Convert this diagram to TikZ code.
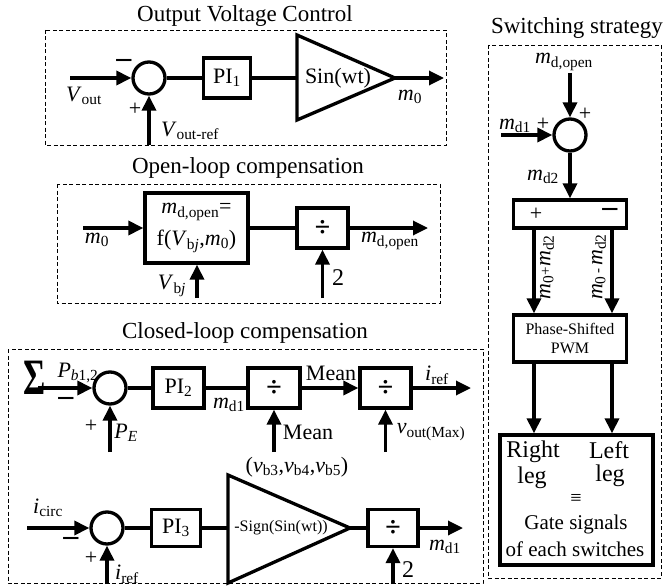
\documentclass[tikz,border=0pt]{standalone}
\usepackage{fontspec}
\setmainfont{Liberation Serif}
\usetikzlibrary{arrows.meta}
\newcommand{\vv}[2]{\textit{#1}\textsubscript{#2}}
\newcommand{\bminus}{{\fontsize{30}{30}\selectfont\textbf{–}}}
\newcommand{\bdiv}{{\fontsize{28}{28}\selectfont\textbf{÷}}}
\begin{document}
\begin{tikzpicture}[x=1pt,y=-1pt,font=\fontsize{22}{24}\selectfont,
 ln/.style={line width=3.3pt},
 arr/.style={line width=3.3pt,-{Triangle[length=15pt,width=14pt]}},
 blk/.style={draw,line width=3.3pt,inner sep=1pt,align=center},
 sumc/.style={draw,circle,line width=3.3pt,minimum size=32pt,inner sep=0pt},
 frame/.style={line width=0.9pt,dash pattern=on 4pt off 2.5pt},
 ttl/.style={font=\fontsize{23}{26}\selectfont,inner sep=0pt},
 lbl/.style={inner sep=0pt},
 tri/.style={line width=3.3pt,line join=miter}]
\useasboundingbox (0,0) rectangle (672,586);

% ---------------- Output Voltage Control
\draw[frame] (45,30) rectangle (446,145);
\node[ttl] (T1) at (245,16) {Output Voltage Control};
\coordinate (a0) at (70,78);
\node[sumc] (s1) at (149,78) {};
\node[blk,minimum width=47pt,minimum height=40pt] (pi1) at (227,78) {PI\textsubscript{1}};
\coordinate (t1a) at (297,35);
\coordinate (t1b) at (297,120);
\coordinate (t1tip) at (395,78);
\coordinate (t1in) at (297,78);
\draw[tri] (t1a) -- (t1b) -- (t1tip) -- cycle;
\node[lbl] (t1txt) at (338,78) {Sin(wt)};
\coordinate (o1) at (444,78);
\coordinate (vref) at (149,145);
\draw[arr] (a0) -- (s1);
\draw[arr] (vref) -- (s1);
\draw[ln] (s1) -- (pi1);
\draw[ln] (pi1) -- (t1in);
\draw[arr] (t1tip) -- (o1);
\node[lbl] (lvout) at (84,96) {\vv{V}{out}};
\node[lbl] (lm1) at (124,63) {\bminus};
\node[lbl] (lp1) at (135,109) {+};
\node[lbl] (lvref) at (190,131) {\vv{V}{out-ref}};
\node[lbl] (lm0) at (410,97) {\vv{m}{0}};

% ---------------- Open-loop compensation
\draw[frame] (57,184) rectangle (440,303);
\node[ttl] (T2) at (248,168) {Open-loop compensation};
\coordinate (b0) at (83,228);
\node[blk,minimum width=103pt,minimum height=70pt,font=\fontsize{22}{32}\selectfont] (fb) at (196.5,228)
  {\vv{m}{d,open}=\\f(\vv{V}{b\textit{j}},\vv{m}{0})};
\node[blk,minimum width=51pt,minimum height=40pt] (d1) at (322.5,228) {\bdiv};
\coordinate (o2) at (428,228);
\coordinate (vbj) at (197,298);
\coordinate (two1) at (322.5,298);
\draw[arr] (b0) -- (fb);
\draw[arr] (vbj) -- (vbj |- fb.south);
\draw[ln] (fb) -- (d1);
\draw[arr] (d1) -- (o2);
\draw[arr] (two1) -- (d1);
\node[lbl] (lm0b) at (97,240) {\vv{m}{0}};
\node[lbl] (lvbj) at (172,286) {\vv{V}{b\textit{j}}};
\node[lbl] (lmdo) at (390,241) {\vv{m}{d,open}};
\node[lbl,font=\fontsize{24}{26}\selectfont] (l2a) at (338,278) {2};

% ---------------- Closed-loop compensation
\draw[frame] (8,349) rectangle (483,583);
\node[ttl] (T3) at (245,333) {Closed-loop compensation};
% row 1
\coordinate (c0) at (38,388);
\node[sumc] (s2) at (110,388) {};
\node[blk,minimum width=51pt,minimum height=40pt] (pi2) at (178.5,388) {PI\textsubscript{2}};
\node[blk,minimum width=52pt,minimum height=40pt] (d2) at (274,388) {\bdiv};
\node[blk,minimum width=51pt,minimum height=40pt] (d3) at (385.5,388) {\bdiv};
\coordinate (o3) at (471,388);
\coordinate (pe) at (110,452);
\coordinate (mn) at (274,452);
\coordinate (vm) at (385.5,452);
\draw[arr] (c0) -- (s2);
\draw[arr] (pe) -- (s2);
\draw[ln] (s2) -- (pi2);
\draw[ln] (pi2) -- (d2);
\draw[arr] (d2) -- (d3);
\draw[arr] (d3) -- (o3);
\draw[arr] (mn) -- (d2);
\draw[arr] (vm) -- (d3);
\node[lbl,font=\fontsize{34}{34}\selectfont] (lsig) at (35,378) {\scalebox{1}[1.5]{\textbf{Σ}}};
\node[lbl] (lpb) at (78,373) {\textit{P}\textsubscript{\textit{b}1,2}};
\node[lbl] (lm2) at (66,401) {\bminus};
\node[lbl] (lp2) at (91,426) {+};
\node[lbl] (lpe) at (126,433) {\textit{P}\textsubscript{\textit{E}}};
\node[lbl] (lmd1a) at (229,405) {\vv{m}{d1}};
\node[lbl] (lmean1) at (308,432) {Mean};
\node[lbl] (lvb) at (297,467) {(\vv{v}{b3},\vv{v}{b4},\vv{v}{b5})};
\node[lbl] (lmean2) at (331,373) {Mean};
\node[lbl] (lvmax) at (431,432) {\vv{v}{out(Max)}};
\node[lbl] (liref1) at (437,375) {\vv{i}{ref}};
% row 2
\coordinate (e0) at (27,528);
\node[sumc] (s3) at (107,528) {};
\node[blk,minimum width=49pt,minimum height=37pt] (pi3) at (176,528) {PI\textsubscript{3}};
\coordinate (t2a) at (228,475);
\coordinate (t2b) at (228,583);
\coordinate (t2tip) at (350,528);
\coordinate (t2in) at (228,528);
\draw[tri] (t2a) -- (t2b) -- (t2tip) -- cycle;
\node[lbl,font=\fontsize{16}{18}\selectfont] (t2txt) at (281,528) {-Sign(Sin(wt))};
\node[blk,minimum width=50pt,minimum height=37pt] (d4) at (393,528) {\bdiv};
\coordinate (o4) at (463,528);
\coordinate (ir) at (107,584);
\coordinate (tw2) at (393,584);
\draw[arr] (e0) -- (s3);
\draw[arr] (ir) -- (s3);
\draw[ln] (s3) -- (pi3);
\draw[ln] (pi3) -- (t2in);
\draw[ln] (t2tip) -- (d4);
\draw[arr] (d4) -- (o4);
\draw[arr] (tw2) -- (d4);
\node[lbl] (licirc) at (48,508) {\vv{i}{circ}};
\node[lbl] (lm3) at (71,541) {\bminus};
\node[lbl] (lp3) at (91,558) {+};
\node[lbl] (liref2) at (127,574) {\vv{i}{ref}};
\node[lbl] (lmd1b) at (445,547) {\vv{m}{d1}};
\node[lbl,font=\fontsize{24}{26}\selectfont] (l2b) at (408,570) {2};

% ---------------- Switching strategy
\draw[frame] (488,45) rectangle (661,578);
\node[ttl] (T4) at (577,28) {Switching strategy};
\coordinate (f0) at (570,73);
\node[sumc] (s4) at (570,135) {};
\coordinate (g0) at (501,135);
\node[blk,minimum width=113pt,minimum height=28pt] (sp) at (570,214) {};
\node[blk,minimum width=113pt,minimum height=47pt,font=\fontsize{16}{19}\selectfont] (pwm) at (570,338.5) {Phase-Shifted\\PWM};
\node[blk,minimum width=153pt,minimum height=130pt] (gs) at (576.5,500) {};
\coordinate (xl) at (534,0);
\coordinate (xr) at (612,0);
\draw[arr] (f0) -- (s4);
\draw[arr] (g0) -- (s4);
\draw[arr] (s4) -- (sp);
\draw[arr] (sp.south -| xl) -- (pwm.north -| xl);
\draw[arr] (sp.south -| xr) -- (pwm.north -| xr);
\draw[arr] (pwm.south -| xl) -- (gs.north -| xl);
\draw[arr] (pwm.south -| xr) -- (gs.north -| xr);
\node[lbl] (lmdo2) at (564,62) {\vv{m}{d,open}};
\node[lbl] (lp4) at (585,114) {+};
\node[lbl] (lmd1c) at (515,126) {\vv{m}{d1}};
\node[lbl] (lp5) at (543,124) {+};
\node[lbl] (lmd2) at (543,177) {\vv{m}{d2}};
\node[lbl] (lsp1) at (536,214) {+};
\node[lbl] (lsp2) at (610,212) {\bminus};
\node[lbl,rotate=90] (lsum) at (547,267) {\vv{m}{0}{\fontsize{15}{15}\selectfont +}\vv{m}{d2}};
\node[lbl,rotate=90] (ldif) at (599,267) {\vv{m}{0}{\fontsize{15}{15}\selectfont\,-\,}\vv{m}{d2}};
\node[lbl,font=\fontsize{24}{26}\selectfont] (lright) at (533,452) {Right};
\node[lbl,font=\fontsize{24}{26}\selectfont] (lleft) at (609,450) {Left};
\node[lbl,font=\fontsize{24}{26}\selectfont] (lleg1) at (532,478) {leg};
\node[lbl,font=\fontsize{24}{26}\selectfont] (lleg2) at (610,476) {leg};
\node[lbl,font=\fontsize{20}{22}\selectfont] (leq) at (576,499) {≡};
\node[lbl,font=\fontsize{21}{23}\selectfont] (lgate) at (576,524) {Gate signals};
\node[lbl,font=\fontsize{21}{23}\selectfont] (leach) at (575,549) {of each switches};
\end{tikzpicture}
\end{document}
